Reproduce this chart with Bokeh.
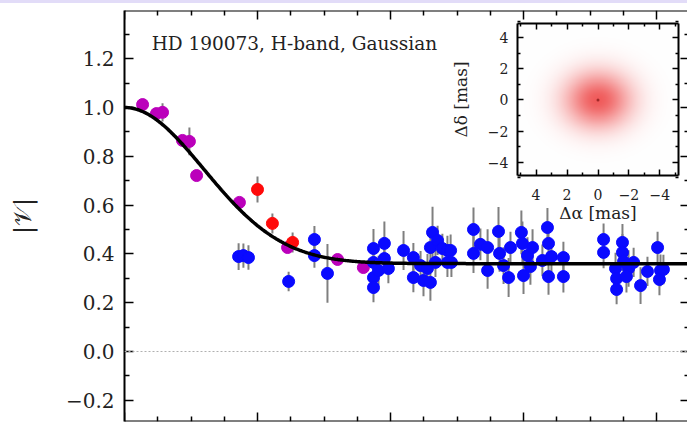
import numpy as np
from bokeh.plotting import figure
from bokeh.models import Range1d, FixedTicker, LinearAxis, Span, Label
from bokeh.embed import file_html
from bokeh.resources import INLINE

# ---- visibility data: spatial frequency [Mlambda], |V|, 1-sigma error ----
mag_u = [6.8, 12.0, 14.3, 21.8, 24.4, 27.1, 43.2, 61.3, 80.1, 89.8]
mag_v = [1.012, 0.975, 0.980, 0.865, 0.861, 0.721, 0.611, 0.426, 0.377, 0.344]
mag_e = [0.015, 0.015, 0.037, 0.015, 0.057, 0.015, 0.015, 0.015, 0.015, 0.015]

red_u = [50.0, 55.6, 63.2]
red_v = [0.664, 0.525, 0.447]
red_e = [0.053, 0.041, 0.041]

blue_u = [42.9, 44.7, 46.6, 61.7, 71.4, 71.4, 76.3,
          93.6, 93.6, 93.6, 93.6, 95.5, 97.7, 97.7, 99.2, 104.9, 108.6, 108.6,
          111.3, 112.4, 113.9, 115.0, 115.8, 115.0, 117.7, 119.5, 121.4, 121.4,
          116.9, 122.6, 122.9,
          131.2, 131.2, 133.8, 136.5, 136.5, 140.6, 141.0, 142.5, 144.4, 145.1,
          149.2, 149.6, 150.0, 151.5, 152.6, 153.4, 157.1, 159.0, 159.4, 159.4,
          160.5, 165.0, 165.0,
          180.1, 180.1, 187.2, 187.2, 187.6, 189.5, 184.6, 185.0, 185.0, 194.0,
          196.6, 200.4, 201.5, 201.1, 202.6, 191.4, 188.7]
blue_v = [0.389, 0.393, 0.385, 0.287, 0.459, 0.393, 0.320,
          0.422, 0.365, 0.303, 0.262, 0.332, 0.443, 0.381, 0.340, 0.414, 0.385, 0.303,
          0.352, 0.291, 0.340, 0.426, 0.488, 0.283, 0.455, 0.422, 0.414, 0.365,
          0.365, 0.414, 0.365,
          0.500, 0.402, 0.439, 0.426, 0.332, 0.492, 0.402, 0.352, 0.303, 0.426,
          0.488, 0.443, 0.311, 0.393, 0.348, 0.426, 0.373, 0.508, 0.443, 0.307,
          0.389, 0.385, 0.307,
          0.459, 0.406, 0.447, 0.406, 0.369, 0.340, 0.340, 0.299, 0.254, 0.270,
          0.328, 0.426, 0.332, 0.295, 0.336, 0.365, 0.307]
blue_e = [0.055, 0.050, 0.050, 0.040, 0.055, 0.050, 0.120,
          0.080, 0.070, 0.060, 0.060, 0.060, 0.090, 0.060, 0.060, 0.080, 0.060, 0.060,
          0.060, 0.065, 0.060, 0.065, 0.105, 0.075, 0.060, 0.060, 0.060, 0.060,
          0.060, 0.065, 0.060,
          0.090, 0.080, 0.065, 0.075, 0.075, 0.100, 0.075, 0.075, 0.080, 0.065,
          0.090, 0.090, 0.075, 0.075, 0.075, 0.075, 0.065, 0.080, 0.080, 0.075,
          0.065, 0.065, 0.065,
          0.065, 0.065, 0.075, 0.075, 0.075, 0.075, 0.065, 0.065, 0.060, 0.075,
          0.060, 0.065, 0.065, 0.065, 0.060, 0.060, 0.065]

# ---- model: Gaussian disk plus unresolved point source ----
fwhm_mas = 2.6
point_frac = 0.36
axis_ratio_ra, axis_ratio_dec = 1.1, 0.92   # mild elongation of the image
display_stretch = 0.65                        # power-law stretch for the inset colours

# axis limits and ticks of the visibility panel
u_max = 211.65
u_right_spine = 212.4
v_min, v_max = -0.287, 1.3975
y_ticks = [-0.2, 0.0, 0.2, 0.4, 0.6, 0.8, 1.0, 1.2]
y_minor = [-0.3, -0.1, 0.1, 0.3, 0.5, 0.7, 0.9, 1.1, 1.3]
x_ticks = [0, 50, 100, 150, 200]
x_minor = [12.5 * k for k in range(1, 18) if k % 4]

# axis limits and ticks of the model-image inset [mas]
ra_left, ra_right = 5.2, -5.2
dec_bottom, dec_top = -4.85, 4.9
inset_ticks = [-4, -2, 0, 2, 4]
inset_minor = [-5, -3, -1, 1, 3, 5]

# canvas geometry (pixels): main frame and inset frame
W, H = 687, 422
FRAME = dict(left=124, top=10, right=687, bottom=421)
INSET = dict(left=517, top=23, right=678, bottom=175)

SERIF = "DejaVu Serif"
INK = "#222222"
MAS = np.pi / 180 / 3600 / 1000


def model_vis(u_mlam):
    u = np.asarray(u_mlam) * 1e6
    g = np.exp(-(np.pi * fwhm_mas * MAS * u) ** 2 / (4 * np.log(2)))
    return point_frac + (1 - point_frac) * g


def minus(s):
    return s.replace("-", "\u2212")


def span_range(a_px, b_px, a_val, b_val, lo_px, hi_px):
    # linear range whose ends sit at lo_px / hi_px, given two anchor points
    k = (b_val - a_val) / (b_px - a_px)
    return Range1d(a_val + (lo_px - a_px) * k, a_val + (hi_px - a_px) * k)


def style_axis(ax, major_in, minor_in, width=2):
    ax.axis_line_width = width
    ax.axis_line_color = "black"
    ax.major_tick_in = major_in
    ax.major_tick_out = 0
    ax.minor_tick_in = minor_in
    ax.minor_tick_out = 0
    ax.major_tick_line_width = 1.5
    ax.minor_tick_line_width = 1.5
    ax.major_tick_line_color = "black"
    ax.minor_tick_line_color = "black"


def tick_only_axis(ticker, at, major_in, minor_in, **kw):
    # axis pinned at a fixed location: ticks only, no labels, no layout space
    ax = LinearAxis(ticker=ticker, fixed_location=at, **kw)
    style_axis(ax, major_in, minor_in)
    ax.major_label_text_color = None
    ax.axis_label = None
    return ax


# ---------------- visibility panel ----------------
p = figure(width=W, height=H, x_range=Range1d(0, u_max),
           y_range=Range1d(v_min, v_max),
           x_axis_location=None, y_axis_location=None,
           output_backend="svg", toolbar_location=None,
           min_border_left=FRAME["left"], min_border_top=FRAME["top"],
           min_border_right=W - FRAME["right"], min_border_bottom=H - FRAME["bottom"])
p.grid.visible = False
p.outline_line_color = None
p.background_fill_color = "white"
p.border_fill_alpha = 0
# page background: white with a thin tinted strip along the top edge
p.styles = {"background": "linear-gradient(#e2dcf8 0px, #e2dcf8 3px, #ffffff 3px)"}

xt = FixedTicker(ticks=x_ticks, minor_ticks=x_minor)
yt = FixedTicker(ticks=y_ticks, minor_ticks=y_minor)

yax = LinearAxis(ticker=yt)
style_axis(yax, 9, 5)
yax.major_label_overrides = {t: minus(f"{t:.1f}") for t in y_ticks}
yax.major_label_text_font = SERIF
yax.major_label_text_font_size = "20px"
yax.major_label_text_color = INK
yax.major_label_standoff = 10
yax.axis_label = "|\U0001D4B1|"
yax.axis_label_text_font = SERIF
yax.axis_label_text_font_size = "24px"
yax.axis_label_text_font_style = "normal"
yax.axis_label_text_color = INK
yax.axis_label_standoff = 26
p.add_layout(yax, "left")

p.add_layout(tick_only_axis(xt, v_min, 9, 5), "below")
p.add_layout(tick_only_axis(xt, v_max, 9, 5), "above")
right_ax = tick_only_axis(yt, u_right_spine, 9, 5)
right_ax.axis_line_color = None
p.add_layout(right_ax, "right")

p.add_layout(Span(location=0, dimension="width", line_color="#b0b0b0",
                  line_width=1.2, line_dash="2 2"))

# error bars, then the points, then the model curve on top
for u, v, e in ((mag_u, mag_v, mag_e), (red_u, red_v, red_e), (blue_u, blue_v, blue_e)):
    v = np.asarray(v)
    e = np.asarray(e)
    p.segment(x0=u, y0=v - e, x1=u, y1=v + e, line_color="#7f7f7f", line_width=2)

p.scatter(mag_u, mag_v, size=12, fill_color="#bb00bb", line_color="#bb00bb")
p.scatter(red_u, red_v, size=12, fill_color="#ff0a0a", line_color="#ff0a0a")
p.scatter(blue_u, blue_v, size=12, fill_color="#0a0aff", line_color="#0a0aff")

u_model = np.linspace(0, u_max, 500)
p.line(u_model, model_vis(u_model), line_color="black", line_width=3.5)

p.add_layout(Label(x=10.2, y=1.263, text="HD 190073, H-band, Gaussian",
                   text_font=SERIF, text_font_size="18.5px",
                   text_color=INK, text_baseline="alphabetic"))

# ---------------- inset: model image in its own sky coordinates ----------------
p.extra_x_ranges = {"ra": span_range(INSET["left"], INSET["right"], ra_left, ra_right,
                                     FRAME["left"], FRAME["right"])}
p.extra_y_ranges = {"dec": span_range(INSET["bottom"], INSET["top"], dec_bottom, dec_top,
                                      FRAME["bottom"], FRAME["top"])}
sky = dict(x_range_name="ra", y_range_name="dec")

p.quad(left=ra_left, right=ra_right, bottom=dec_bottom, top=dec_top,
       fill_color="white", line_color=None, **sky)

nx, ny = 241, 226
gx, gy = np.meshgrid(np.linspace(ra_right, ra_left, nx),
                     np.linspace(dec_bottom, dec_top, ny))
sig = fwhm_mas / (2 * np.sqrt(2 * np.log(2)))
inten = np.exp(-0.5 * ((gx / (sig * axis_ratio_ra)) ** 2 +
                       (gy / (sig * axis_ratio_dec)) ** 2))
shade = inten ** display_stretch
img = np.empty((ny, nx), dtype=np.uint32)
view = img.view(dtype=np.uint8).reshape((ny, nx, 4))
view[..., 0] = (255 - shade * (255 - 240)).astype(np.uint8)
view[..., 1] = (255 - shade * (255 - 92)).astype(np.uint8)
view[..., 2] = (255 - shade * (255 - 92)).astype(np.uint8)
view[..., 3] = 255
p.image_rgba(image=[img], x=(ra_left + ra_right) / 2, y=(dec_bottom + dec_top) / 2,
             dw=abs(ra_left - ra_right), dh=dec_top - dec_bottom,
             anchor="center", **sky)
p.scatter([0], [0], size=3, fill_color="#a02828", line_color=None, **sky)

it = FixedTicker(ticks=inset_ticks, minor_ticks=inset_minor)
labels = {t: minus(str(t)) for t in inset_ticks}
ra_bounds = (min(ra_left, ra_right), max(ra_left, ra_right))
in_x = LinearAxis(ticker=it, fixed_location=dec_bottom, bounds=ra_bounds, **sky)
in_y = LinearAxis(ticker=it, fixed_location=ra_left, bounds=(dec_bottom, dec_top), **sky)
for ax in (in_x, in_y):
    style_axis(ax, 6, 3)
    ax.major_label_overrides = labels
    ax.major_label_text_font = SERIF
    ax.major_label_text_font_size = "14px"
    ax.major_label_text_color = INK
    ax.axis_label_text_font = SERIF
    ax.axis_label_text_font_size = "17px"
    ax.axis_label_text_font_style = "normal"
    ax.axis_label_text_color = INK
in_x.axis_label = "\u0394\u03b1 [mas]"
in_x.major_label_standoff = 13
in_x.axis_label_standoff = 0
in_y.axis_label = "\u0394\u03b4 [mas]"
in_y.major_label_standoff = 9
in_y.axis_label_standoff = 14
p.add_layout(in_x, "below")
p.add_layout(in_y, "left")
p.add_layout(tick_only_axis(it, dec_top, 6, 3, bounds=ra_bounds, **sky), "above")
p.add_layout(tick_only_axis(it, ra_right, 6, 3, bounds=(dec_bottom, dec_top), **sky),
             "right")

open("out.html", "w").write(file_html(p, INLINE))
